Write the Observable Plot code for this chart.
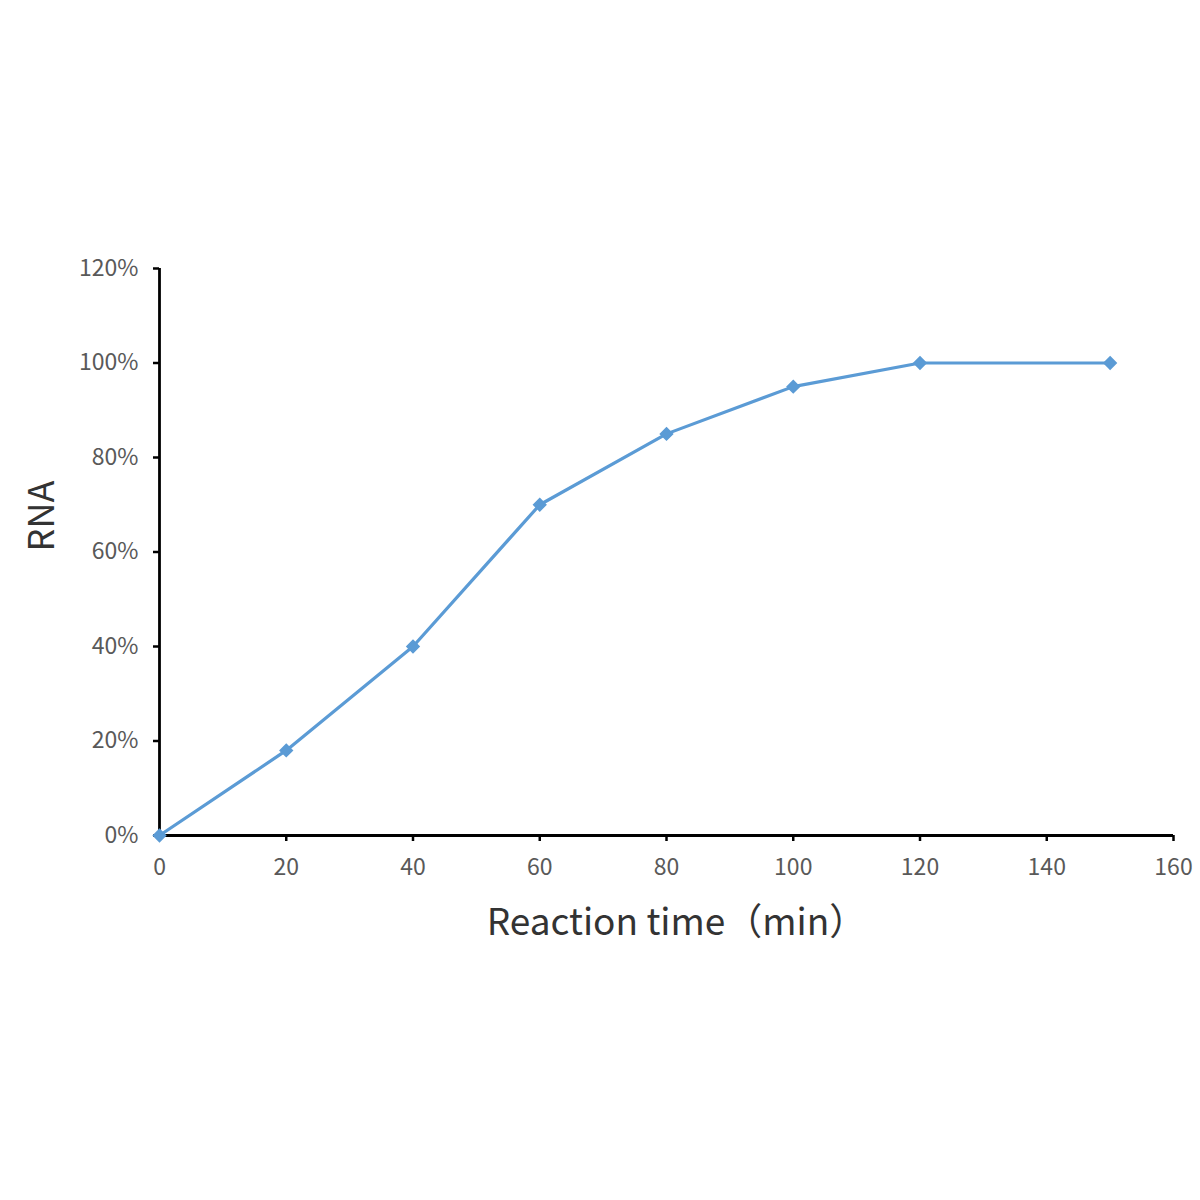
<!DOCTYPE html>
<html>
<head>
<meta charset="utf-8">
<script src="https://cdn.jsdelivr.net/npm/d3@7"></script>
<script src="https://cdn.jsdelivr.net/npm/@observablehq/plot@0.6"></script>
<style>
  html, body { margin: 0; padding: 0; background: #fff; }
  #chart svg { display: block; }
</style>
</head>
<body>
<div id="chart"></div>
<script>
const times = [0, 20, 40, 60, 80, 100, 120, 150];
const rna = [0, 0.18, 0.40, 0.70, 0.85, 0.95, 1.00, 1.00];
const xTicks = [0, 20, 40, 60, 80, 100, 120, 140, 160];
const yTicks = [0, 0.2, 0.4, 0.6, 0.8, 1.0, 1.2];
const xTitle = "Reaction time（min）";
const yTitle = "RNA";

const data = times.map((t, i) => ({time: t, rna: rna[i]}));
const blue = "#5B9BD5";

const chart = Plot.plot({
  width: 1200,
  height: 1200,
  marginLeft: 159,
  marginRight: 27,
  marginTop: 268,
  marginBottom: 365,
  style: {fontFamily: "'Noto Sans CJK SC', 'Noto Sans', sans-serif", background: "#fff"},
  x: {domain: [0, 160]},
  y: {domain: [0, 1.2]},
  marks: [
    Plot.axisX({ticks: xTicks, tickSize: 6, tickPadding: 17, fontSize: 23, color: "#595959", stroke: "#000", strokeWidth: 2.5, label: null}),
    Plot.axisY({ticks: yTicks, tickSize: 6, tickPadding: 15, fontSize: 23, color: "#595959", stroke: "#000", strokeWidth: 2.5, tickFormat: d3.format(".0%"), label: null}),
    Plot.ruleY([0], {stroke: "#000", strokeWidth: 2.8}),
    Plot.ruleX([0], {stroke: "#000", strokeWidth: 2.8}),
    Plot.line(data, {x: "time", y: "rna", stroke: blue, strokeWidth: 3.2}),
    Plot.dot(data, {x: "time", y: "rna", symbol: "diamond2", r: 5.5, fill: blue, stroke: blue}),
    Plot.text([xTitle], {frameAnchor: "bottom", dx: 10, dy: 99, fontSize: 37, fill: "#333", text: d => d}),
    Plot.text([yTitle], {frameAnchor: "left", textAnchor: "middle", dx: -117, dy: -36, rotate: -90, fontSize: 36, fill: "#333", text: d => d})
  ]
});
document.getElementById("chart").appendChild(chart);
</script>
</body>
</html>
